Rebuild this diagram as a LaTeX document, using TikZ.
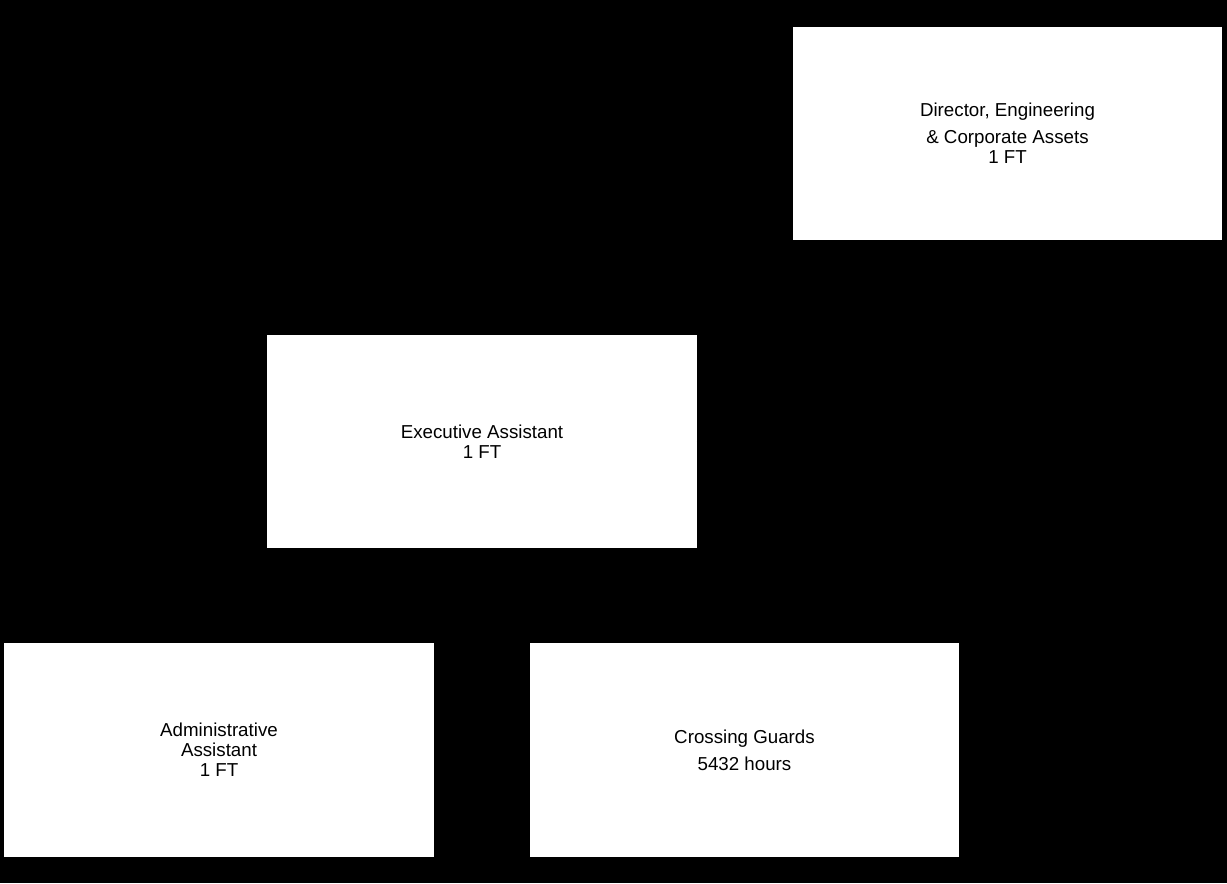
\documentclass[tikz,border=0pt]{standalone}
\usepackage{fontspec}
\setmainfont{Liberation Sans}
\begin{document}
\begin{tikzpicture}[x=0.02cm,y=-0.02cm,
  orgbox/.style={fill=white, draw=none, inner sep=0pt, outer sep=0pt,
    minimum width=8.6cm, minimum height=4.27cm, align=center,
    font=\fontsize{10.66pt}{11.3pt}\selectfont},
  conn/.style={draw=black, line width=0.8pt}]
\fill[black] (0,0) rectangle (1227,883);
\useasboundingbox (0,0) rectangle (1227,883);
\node[orgbox] (dir) at (1007.5,133.5) {Director, Engineering\\[4pt] \& Corporate Assets\\ 1 FT};
\node[orgbox] (ea) at (482,441.5) {Executive Assistant\\ 1 FT};
\node[orgbox] (aa) at (219,750) {Administrative\\ Assistant\\ 1 FT};
\node[orgbox] (cg) at (744.5,750) {Crossing Guards\\[4pt] 5432 hours};
\coordinate (bus) at (dir.south |- 0,595);
\draw[conn] (dir.south) -- (bus);
\draw[conn] (ea.east) -| (bus);
\draw[conn] (bus) -| (aa.north);
\draw[conn] (bus) -| (cg.north);
\end{tikzpicture}
\end{document}
